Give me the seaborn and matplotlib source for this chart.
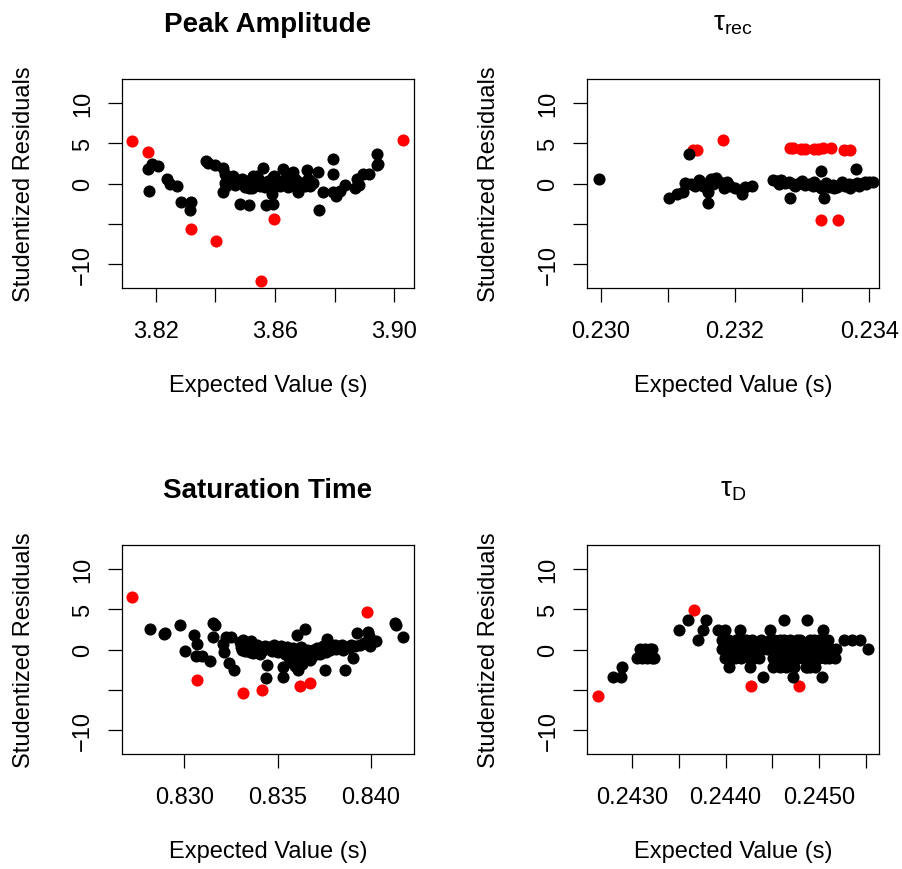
import numpy as np
import pandas as pd
import matplotlib
matplotlib.use("Agg")
import matplotlib.pyplot as plt
import seaborn as sns

# ---------------- data ----------------
# Panel 1: Peak Amplitude
pa_x = [3.8174, 3.8187, 3.8207, 3.8179, 3.8237, 3.8248, 3.8273, 3.8286, 3.8317, 3.8315,
        3.8369, 3.8377, 3.8399, 3.8425, 3.8427, 3.8432, 3.8432, 3.8440, 3.8436, 3.8455,
        3.8460, 3.8472, 3.8477, 3.8483, 3.8494, 3.8505, 3.8514, 3.8514, 3.8522, 3.8527,
        3.8527, 3.8539, 3.8550, 3.8555, 3.8561, 3.8570, 3.8583, 3.8590, 3.8594, 3.8594,
        3.8598, 3.8611, 3.8622, 3.8628, 3.8634, 3.8650, 3.8656, 3.8661, 3.8661, 3.8673,
        3.8678, 3.8706, 3.8712, 3.8717, 3.8717, 3.8728, 3.8745, 3.8749, 3.8762, 3.8793,
        3.8795, 3.8795, 3.8804, 3.8818, 3.8835, 3.8868, 3.8874, 3.8880, 3.8896, 3.8916,
        3.8943, 3.8943, 3.8946,
        3.8445, 3.8465, 3.8488, 3.8500, 3.8518, 3.8535, 3.8545, 3.8565, 3.8575, 3.8600,
        3.8605, 3.8618, 3.8640, 3.8645, 3.8668, 3.8690, 3.8700]
pa_y = [1.8, 2.4, 2.2, -0.9, 0.5, 0.0, -0.3, -2.25, -2.25, -3.3,
        2.8, 2.5, 2.3, 1.9, -1.0, 1.2, 0.1, 0.75, -0.3, 0.75,
        0.95, 0.3, 0.1, -2.6, 0.0, 0.3, -2.7, -0.5, -0.5, 0.5,
        0.95, 0.9, -0.3, 0.1, 1.95, -2.7, -0.1, -1.35, 0.75, -2.5,
        0.9, 0.1, 0.1, 1.85, 0.5, -0.1, 1.15, -0.1, 1.4, 0.3,
        -1.1, 1.7, 0.5, -0.3, 0.3, 0.1, 1.4, -3.3, -1.0, 3.0,
        1.15, -1.0, -1.5, -0.9, -0.2, -0.6, 0.5, -0.2, 1.15, 1.15,
        3.65, 2.3, 2.45,
        0.4, -0.2, 0.6, -0.4, 0.2, -0.2, 0.4, -0.4, 0.3, -0.2,
        0.4, -0.3, 0.2, -0.4, 0.6, 0.1, -0.3]
pa_out_x = [3.8122, 3.8174, 3.8317, 3.8401, 3.8598, 3.8553, 3.9028]
pa_out_y = [5.25, 3.9, -5.7, -7.1, -4.46, -12.1, 5.4]

# Panel 2: tau_rec
tr_x = [0.22997, 0.23102, 0.23113, 0.23122, 0.23125, 0.23132, 0.23140, 0.23146, 0.23153, 0.23160,
        0.23160, 0.23165, 0.23171, 0.23180, 0.23183, 0.23193, 0.23200, 0.23210, 0.23215, 0.23225,
        0.23150, 0.23168, 0.23175, 0.23188, 0.23135,
        0.23257, 0.23262, 0.23268, 0.23274, 0.23280, 0.23286, 0.23292, 0.23298, 0.23304, 0.23310,
        0.23316, 0.23322, 0.23328, 0.23334, 0.23340, 0.23346, 0.23352, 0.23358, 0.23364, 0.23370,
        0.23376, 0.23382, 0.23388, 0.23394, 0.23400, 0.23405,
        0.23265, 0.23290, 0.23300, 0.23318, 0.23336, 0.23348, 0.23360, 0.23372, 0.23385, 0.23395,
        0.23282, 0.23328, 0.23333, 0.23380]
tr_y = [0.6, -1.75, -1.35, -1.1, 0.1, 3.7, -0.3, 0.45, -0.3, -1.1,
        -2.45, 0.55, 0.7, 0.1, -0.5, -0.3, -0.5, -1.35, -0.4, -0.3,
        0.2, -0.1, 0.3, 0.2, 0.0,
        0.45, 0.3, 0.4, 0.1, 0.2, 0.0, -0.1, 0.1, -0.2, -0.1,
        -0.3, -0.2, -0.5, -0.3, -0.4, -0.2, -0.4, -0.1, -0.3, 0.0,
        -0.2, 0.1, 0.0, 0.2, 0.15, 0.2,
        0.0, -0.3, 0.3, 0.2, 0.1, -0.6, 0.2, -0.5, -0.3, -0.1,
        -1.75, 1.6, -1.75, 1.8]
tr_out_x = [0.23138, 0.23143, 0.23182, 0.23282, 0.23287, 0.23299, 0.23304, 0.23317, 0.23324,
            0.23331, 0.23343, 0.23363, 0.23371, 0.23328, 0.23353]
tr_out_y = [4.1, 4.1, 5.4, 4.4, 4.4, 4.3, 4.3, 4.3, 4.3,
            4.4, 4.4, 4.15, 4.1, -4.55, -4.55]

# Panel 3: Saturation Time
st_x = [0.82816, 0.82892, 0.82898, 0.82977, 0.83004, 0.83054, 0.83070, 0.83061, 0.83095, 0.83138,
        0.83155, 0.83162, 0.83155, 0.83222, 0.83248, 0.83205, 0.83213, 0.83241, 0.83268,
        0.83298, 0.83305, 0.83316, 0.83325, 0.83334, 0.83345, 0.83355, 0.83365, 0.83375, 0.83385,
        0.83395, 0.83405, 0.83420, 0.83441, 0.83436, 0.83455, 0.83470, 0.83485, 0.83500, 0.83515,
        0.83527, 0.83530, 0.83540, 0.83550, 0.83560, 0.83570, 0.83580, 0.83590, 0.83600, 0.83602,
        0.83610, 0.83615, 0.83625, 0.83630, 0.83640, 0.83646, 0.83655, 0.83665, 0.83680, 0.83695,
        0.83710, 0.83725, 0.83740, 0.83754, 0.83760, 0.83763, 0.83775, 0.83790, 0.83805, 0.83820,
        0.83835, 0.83850, 0.83860, 0.83870, 0.83890, 0.83905, 0.83915, 0.83923, 0.83985, 0.83990,
        0.83995, 0.84025, 0.84129, 0.84135, 0.84173, 0.83960, 0.83940,
        0.83310, 0.83330, 0.83350, 0.83370, 0.83390, 0.83410, 0.83430, 0.83462, 0.83478, 0.83492,
        0.83508, 0.83522, 0.83545, 0.83565, 0.83575, 0.83585, 0.83595, 0.83605, 0.83620, 0.83635,
        0.83650, 0.83660, 0.83672, 0.83690, 0.83705, 0.83718, 0.83735, 0.83750, 0.83782, 0.83798,
        0.83812, 0.83828, 0.83842, 0.83880]
st_y = [2.6, 1.9, 2.1, 3.1, -0.15, 1.8, 0.65, -0.8, -0.8, -1.4,
        3.3, 3.0, 1.5, 1.6, 1.6, 0.65, -0.35, -1.7, -2.6,
        0.9, 0.3, 1.2, -0.2, 0.6, 0.2, 1.0, -0.4, 0.3, -0.1,
        0.4, -0.6, 0.0, -1.9, -3.55, 0.3, -0.2, 0.2, -0.3, 0.4,
        -3.45, -2.15, -0.5, 0.3, -1.0, -1.6, 0.2, -2.0, -0.7, 1.8,
        -2.6, -1.2, 0.3, -1.8, -0.4, 2.5, 0.0, -0.6, -1.0, -0.3,
        0.2, -0.5, 0.4, -2.6, -0.3, 1.3, 0.6, 0.2, 0.5, 0.3,
        0.4, 0.0, -2.55, 0.3, 0.6, -1.0, 0.4, 2.0, 2.2, 1.7,
        0.45, 1.1, 3.3, 3.0, 1.5, 0.8, 0.5,
        0.0, 0.8, -0.3, 0.7, 0.5, 0.2, 0.4, 0.0, 0.5, -0.2,
        0.1, -0.1, 0.0, -0.3, -1.3, -0.8, -1.5, -1.1, -0.5, -1.4,
        -0.9, -0.2, -1.3, 0.0, -0.6, -0.1, -0.3, 0.1, 0.0, 0.3,
        0.1, 0.2, 0.6, 0.2]
st_out_x = [0.82721, 0.83066, 0.83316, 0.83416, 0.83620, 0.83673, 0.83980]
st_out_y = [6.45, -3.8, -5.45, -5.0, -4.5, -4.1, 4.7]

# Panel 4: tau_D
td_x = [0.242796, 0.242879, 0.242886, 0.243046, 0.243100, 0.243154, 0.243207, 0.243236,
        0.243082, 0.243136, 0.243189, 0.243214,
        0.243500, 0.243593, 0.243700, 0.243761, 0.243789, 0.243921, 0.243993, 0.243957, 0.244029,
        0.244036, 0.244154, 0.244261, 0.244404, 0.244475, 0.244629, 0.244725, 0.244868, 0.244868,
        0.244957, 0.245029, 0.245046, 0.245271, 0.245350, 0.245439, 0.245529,
        0.24396, 0.24401, 0.24406, 0.24411, 0.24417, 0.24422, 0.24428, 0.24433, 0.24438, 0.24444,
        0.24449, 0.24454, 0.24460, 0.24465, 0.24470, 0.24476, 0.24481, 0.24486, 0.24492, 0.24497,
        0.24502, 0.24508, 0.24513, 0.24518,
        0.24399, 0.24404, 0.24410, 0.24416, 0.24425, 0.24430, 0.24436, 0.24451, 0.24456, 0.24462,
        0.24467, 0.24473, 0.24478, 0.24484, 0.24489, 0.24495, 0.24500, 0.24506, 0.24511, 0.24517,
        0.24411, 0.24417, 0.24422, 0.24428, 0.24447, 0.24452, 0.24458, 0.24463, 0.24490, 0.24495,
        0.24500,
        0.24451, 0.24458, 0.24465, 0.24473, 0.24490,
        0.24403, 0.24419, 0.24469, 0.24480, 0.24486, 0.24505, 0.24510, 0.24438, 0.24476]
td_y = [-3.35, -3.35, -2.15, -1.0, -1.0, -1.0, -1.0, -1.0,
        0.1, 0.1, 0.1, 0.1,
        2.4, 3.6, 1.2, 2.4, 3.6, 2.4, 2.4, 1.2, 1.2,
        -2.15, 2.4, -2.15, -3.35, 2.4, 3.6, -3.35, 3.6, -2.15,
        -2.15, -3.35, 2.4, 1.2, 1.2, 1.2, 0.1,
        0.1, 0.1, 0.1, 0.1, 0.1, 0.1, 0.1, 0.1, 0.1, 0.1,
        0.1, 0.1, 0.1, 0.1, 0.1, 0.1, 0.1, 0.1, 0.1, 0.1,
        0.1, 0.1, 0.1, 0.1,
        -1.0, -1.0, -1.0, -1.0, -1.0, -1.0, -1.0, -1.0, -1.0, -1.0,
        -1.0, -1.0, -1.0, -1.0, -1.0, -1.0, -1.0, -1.0, -1.0, -1.0,
        1.2, 1.2, 1.2, 1.2, 1.2, 1.2, 1.2, 1.2, 1.2, 1.2,
        1.2,
        -2.15, -2.15, -2.15, -2.15, -2.15,
        1.2, 1.2, 1.2, 1.2, -2.15, 1.2, 1.2, 1.2, 1.2]
td_out_x = [0.242636, 0.243664, 0.244271, 0.244789]
td_out_y = [-5.8, 4.9, -4.5, -4.5]

titles = ["Peak Amplitude", r"$\mathrm{\tau}_{\mathrm{rec}}$", "Saturation Time", r"$\mathrm{\tau}_{\mathrm{D}}$"]
title_bold = [True, False, True, False]
x_label = "Expected Value (s)"
y_label = "Studentized Residuals"

x_ticks = [[3.82, 3.84, 3.86, 3.88, 3.90],
           [0.230, 0.231, 0.232, 0.233, 0.234],
           [0.830, 0.835, 0.840],
           [0.2430, 0.2435, 0.2440, 0.2445, 0.2450, 0.2455]]
x_ticklabels = [["3.82", "", "3.86", "", "3.90"],
                ["0.230", "", "0.232", "", "0.234"],
                ["0.830", "0.835", "0.840"],
                ["0.2430", "", "0.2440", "", "0.2450", ""]]
x_lims = [(3.8086, 3.9066), (0.229801, 0.234149), (0.82664, 0.84230), (0.242518, 0.245646)]
y_ticks = [-10, -5, 0, 5, 10]
y_ticklabels = ["\u221210", "", "0", "5", "10"]

# ---------------- style ----------------
sns.set_style("ticks")
plt.rcParams["font.family"] = ["Liberation Sans", "DejaVu Sans"]
plt.rcParams["mathtext.fontset"] = "custom"
plt.rcParams["mathtext.rm"] = "Liberation Sans"
plt.rcParams["mathtext.it"] = "Liberation Sans:italic"
plt.rcParams["axes.unicode_minus"] = True
plt.rcParams["text.color"] = "black"
plt.rcParams["axes.labelcolor"] = "black"
plt.rcParams["xtick.color"] = "black"
plt.rcParams["ytick.color"] = "black"

W, H = 903, 870
fig = plt.figure(figsize=(W / 100, H / 100), dpi=100)
fig.patch.set_facecolor("white")

boxes = [(121.7, 80, 414, 289), (587.3, 80, 879.3, 289),
         (121.7, 546, 414, 755), (587.3, 546, 879.3, 755)]

panels = [(pa_x, pa_y, pa_out_x, pa_out_y),
          (tr_x, tr_y, tr_out_x, tr_out_y),
          (st_x, st_y, st_out_x, st_out_y),
          (td_x, td_y, td_out_x, td_out_y)]

FS = 17
MS = 76
for i, (bx, data) in enumerate(zip(boxes, panels)):
    l, t, r, b = bx
    ax = fig.add_axes([l / W, 1 - b / H, (r - l) / W, (b - t) / H])
    xs, ys, oxs, oys = data
    df = pd.DataFrame({"x": list(xs) + list(oxs),
                       "y": list(ys) + list(oys),
                       "grp": ["in"] * len(xs) + ["out"] * len(oxs)})
    sns.scatterplot(data=df[df.grp == "out"], x="x", y="y", color="#ff0000",
                    s=MS, linewidth=0, ax=ax, legend=False, zorder=2)
    sns.scatterplot(data=df[df.grp == "in"], x="x", y="y", color="black",
                    s=MS, linewidth=0, ax=ax, legend=False, zorder=3)
    ax.set_xlim(*x_lims[i])
    ax.set_ylim(-12.96, 12.96)
    ax.set_xticks(x_ticks[i])
    ax.set_xticklabels(x_ticklabels[i])
    ax.set_yticks(y_ticks)
    ax.set_yticklabels(y_ticklabels, rotation=90, va="center")
    ax.tick_params(axis="both", direction="out", length=10, width=0.9,
                   labelsize=FS, color="black", labelcolor="black")
    ax.tick_params(axis="x", pad=13)
    ax.tick_params(axis="y", pad=10)
    for s in ax.spines.values():
        s.set_visible(True)
        s.set_linewidth(0.9)
        s.set_color("black")
    ax.set_xlabel("")
    ax.set_ylabel("")
    # titles and axis labels
    cx = (l + r) / 2 / W
    if title_bold[i]:
        fig.text(cx, 1 - (t - 55) / H, titles[i], ha="center", va="center",
                 fontsize=20, fontweight="bold", color="black")
    else:
        fig.text(cx, 1 - (t - 56) / H, titles[i], ha="center", va="center",
                 fontsize=20, color="black")
    fig.text(cx, 1 - (b + 97) / H, x_label, ha="center", va="center", fontsize=FS,
             color="black")
    fig.text((l - 98) / W, 1 - (t + b) / 2 / H, y_label, ha="center", va="center",
             rotation=90, fontsize=FS, color="black")

fig.savefig("out.png", dpi=100, facecolor="white")
